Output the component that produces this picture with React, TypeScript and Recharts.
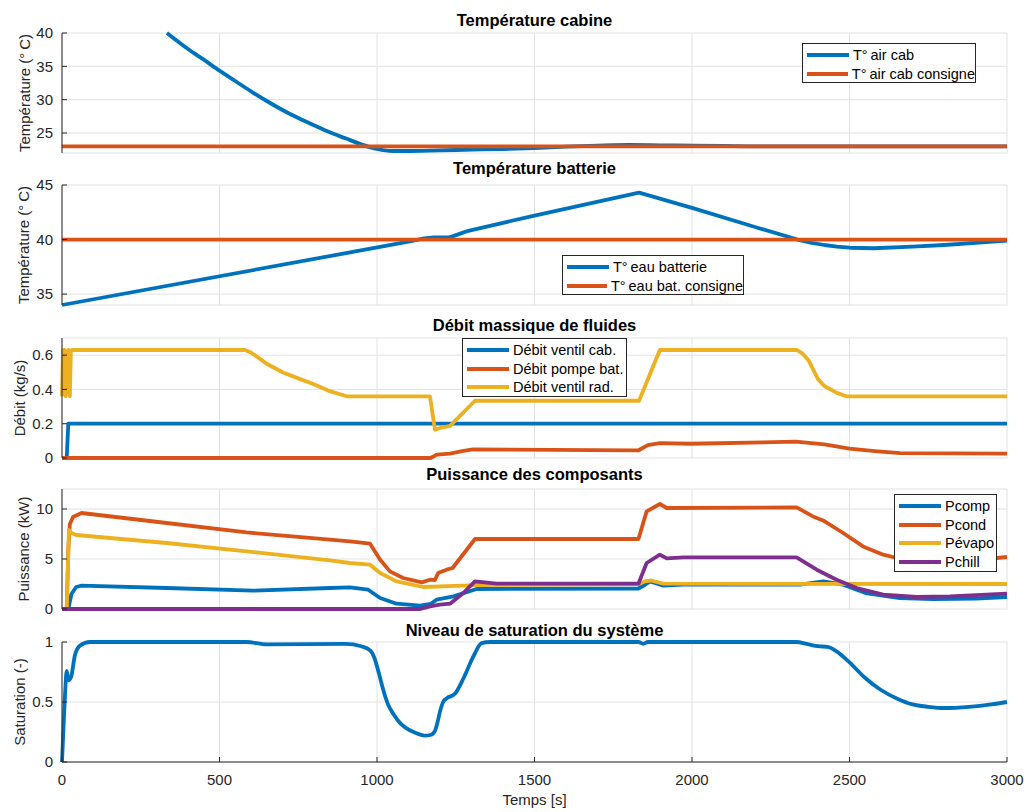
import { LineChart, Line, XAxis, YAxis, CartesianGrid } from "recharts";

const FONT = '"Liberation Sans", Arial, Helvetica, sans-serif';
const BLUE = "#0072BD";
const ORANGE = "#D95319";
const YELLOW = "#EDB120";
const PURPLE = "#7E2F8E";
const AXIS = "#262626";
const GRID = "#e2e2e2";

const X_TICKS = [0, 500, 1000, 1500, 2000, 2500, 3000];

// Température cabine
const cabTime = [333, 400, 450, 500, 550, 600, 650, 700, 750, 800, 850, 900, 950, 1000, 1050, 1100, 1200, 1300, 1400, 1500, 1600, 1700, 1800, 1900, 2000, 2100, 2200, 2400, 2600, 3000];
const cabTemp = [40, 37.6, 36.0, 34.35, 32.8, 31.25, 29.8, 28.45, 27.25, 26.15, 25.1, 24.2, 23.3, 22.6, 22.3, 22.3, 22.4, 22.5, 22.6, 22.75, 22.95, 23.1, 23.2, 23.15, 23.1, 23.05, 23.0, 23.0, 23.0, 23.0];
const cabSetTime = [0, 3000];
const cabSet = [23, 23];

// Température batterie
const battTime = [0, 1100, 1150, 1180, 1230, 1260, 1290, 1500, 1832, 2000, 2200, 2335, 2380, 2420, 2460, 2500, 2578, 2700, 2800, 2900, 3000];
const battTemp = [34, 39.8, 40.1, 40.2, 40.2, 40.5, 40.8, 42.2, 44.3, 42.9, 41.15, 40.0, 39.7, 39.5, 39.35, 39.25, 39.2, 39.35, 39.5, 39.7, 39.9];
const battSetTime = [0, 3000];
const battSet = [40, 40];

// Débit massique
const ventCabTime = [0, 15, 20, 3000];
const ventCab = [0, 0, 0.2, 0.2];
const pumpTime = [0, 1170, 1190, 1232, 1270, 1305, 1829, 1860, 1898, 1994, 2330, 2420, 2500, 2580, 2660, 3000];
const pump = [0, 0, 0.02, 0.025, 0.04, 0.05, 0.044, 0.075, 0.087, 0.083, 0.095, 0.08, 0.055, 0.04, 0.028, 0.025];
const ventRadTime = [0, 3, 6, 9, 12, 15, 18, 21, 25, 28, 32, 581, 600, 620, 650, 700, 756, 800, 850, 904, 1168, 1184, 1200, 1232, 1311, 1832, 1898, 2333, 2350, 2370, 2400, 2420, 2460, 2490, 3000];
const ventRad = [0.36, 0.63, 0.37, 0.63, 0.36, 0.62, 0.38, 0.63, 0.36, 0.62, 0.63, 0.63, 0.615, 0.59, 0.55, 0.5, 0.46, 0.43, 0.39, 0.36, 0.36, 0.165, 0.175, 0.187, 0.334, 0.334, 0.63, 0.63, 0.61, 0.57, 0.46, 0.42, 0.38, 0.36, 0.36];

// Puissance des composants
const pcompTime = [0, 20, 30, 45, 62, 332, 607, 851, 914, 972, 1010, 1062, 1137, 1170, 1189, 1243, 1316, 1830, 1850, 1867, 1909, 1972, 2343, 2417, 2480, 2551, 2660, 2766, 2900, 3000];
const pcomp = [0, 0, 1.5, 2.2, 2.33, 2.1, 1.83, 2.1, 2.16, 1.93, 1.1, 0.53, 0.33, 0.5, 0.93, 1.26, 2.0, 2.05, 2.4, 2.76, 2.33, 2.43, 2.43, 2.76, 2.43, 1.6, 1.1, 1.0, 1.05, 1.2];
const pcondTime = [0, 15, 20, 25, 35, 62, 332, 586, 851, 914, 978, 1010, 1041, 1083, 1142, 1168, 1184, 1194, 1221, 1240, 1311, 1830, 1856, 1898, 1920, 2332, 2384, 2416, 2480, 2543, 2607, 2650, 2750, 2850, 2950, 3000];
const pcond = [0, 0, 6, 8.5, 9.2, 9.6, 8.6, 7.66, 6.93, 6.76, 6.53, 4.93, 3.76, 3.1, 2.66, 2.93, 2.9, 3.6, 3.93, 4.1, 7.0, 7.0, 9.76, 10.5, 10.1, 10.16, 9.26, 8.86, 7.6, 6.26, 5.43, 5.1, 4.9, 4.9, 5.05, 5.2];
const pevapTime = [0, 15, 22, 30, 45, 332, 586, 851, 914, 978, 1010, 1062, 1147, 1274, 1321, 1830, 1850, 1870, 1909, 3000];
const pevap = [0, 0, 7.9, 7.6, 7.4, 6.6, 5.76, 4.86, 4.6, 4.43, 3.6, 2.76, 2.2, 2.33, 2.4, 2.5, 2.76, 2.85, 2.53, 2.5];
const pchillTime = [0, 1137, 1168, 1200, 1232, 1274, 1311, 1380, 1830, 1856, 1898, 1920, 1973, 2332, 2396, 2459, 2523, 2607, 2713, 2819, 3000];
const pchill = [0, 0, 0.27, 0.43, 0.53, 1.6, 2.76, 2.53, 2.53, 4.6, 5.43, 5.06, 5.16, 5.16, 3.93, 2.93, 2.1, 1.43, 1.2, 1.26, 1.53];

// Niveau de saturation
const satTime = [0, 5, 10, 15, 20, 29, 41, 57, 89, 586, 650, 900, 950, 978, 990, 1005, 1020, 1035, 1052, 1075, 1094, 1120, 1152, 1170, 1184, 1192, 1200, 1210, 1221, 1248, 1275, 1306, 1332, 1360, 1830, 1845, 1860, 2330, 2370, 2400, 2430, 2460, 2500, 2550, 2600, 2650, 2700, 2750, 2800, 2880, 2950, 3000];
const sat = [0, 0.3, 0.58, 0.76, 0.68, 0.71, 0.89, 0.97, 1.0, 1.0, 0.98, 0.985, 0.965, 0.93, 0.88, 0.75, 0.6, 0.48, 0.4, 0.32, 0.28, 0.245, 0.22, 0.225, 0.26, 0.33, 0.42, 0.5, 0.53, 0.57, 0.7, 0.88, 0.99, 1.0, 1.0, 0.985, 1.0, 1.0, 0.98, 0.965, 0.96, 0.92, 0.83, 0.7, 0.6, 0.53, 0.48, 0.46, 0.45, 0.46, 0.48, 0.5];

const zip = (ts: number[], vs: number[]) => ts.map((t, i) => ({ t, v: vs[i] }));

type Curve = "linear" | "monotone";
type Series = { name: string; color: string; curve: Curve; data: { t: number; v: number }[] };

const PLOT_RIGHT = 1007;
const Y_AXIS_W = 62;
const PLOT_H = 120;
const PAD = 14;

function Panel({
  top,
  domain,
  ticks,
  series,
  last,
}: {
  top: number;
  domain: [number, number];
  ticks: number[];
  series: Series[];
  last?: boolean;
}) {
  const xh = last ? 40 : 0;
  return (
    <div style={{ position: "absolute", left: 0, top: top - PAD }}>
      <LineChart
        width={1029}
        height={PLOT_H + 2 * PAD + xh}
        margin={{ top: PAD, right: 1029 - PLOT_RIGHT, bottom: PAD, left: 0 }}
      >
        <CartesianGrid stroke={GRID} strokeWidth={1} />
        <XAxis
          dataKey="t"
          type="number"
          domain={[0, 3000]}
          ticks={X_TICKS}
          height={xh}
          tickSize={-5}
          tickMargin={17}
          axisLine={{ stroke: AXIS }}
          tickLine={{ stroke: AXIS }}
          tick={{ fontSize: 15, fill: AXIS, fontFamily: FONT }}
          tickFormatter={(v) => (last ? String(v) : "")}
          interval={0}
        />
        <YAxis
          type="number"
          domain={domain}
          ticks={ticks}
          width={Y_AXIS_W}
          tickSize={-5}
          tickMargin={14}
          axisLine={{ stroke: AXIS }}
          tickLine={{ stroke: AXIS }}
          tick={{ fontSize: 15, fill: AXIS, fontFamily: FONT }}
          interval={0}
        />
        {series.map((s) => (
          <Line
            key={s.name}
            data={s.data}
            dataKey="v"
            name={s.name}
            type={s.curve}
            stroke={s.color}
            strokeWidth={3.8}
            strokeLinejoin="round"
            dot={false}
            isAnimationActive={false}
          />
        ))}
      </LineChart>
    </div>
  );
}

function Title({ cy, text }: { cy: number; text: string }) {
  return (
    <div
      style={{
        position: "absolute",
        left: 62,
        width: PLOT_RIGHT - 62,
        top: cy - 10,
        lineHeight: "20px",
        textAlign: "center",
        fontWeight: "bold",
        fontSize: 16.5,
        color: "#000",
      }}
    >
      {text}
    </div>
  );
}

function YLabel({ cx, cy, text }: { cx: number; cy: number; text: string }) {
  return (
    <div
      style={{
        position: "absolute",
        left: cx,
        top: cy,
        transform: "translate(-50%, -50%) rotate(-90deg)",
        whiteSpace: "nowrap",
        fontSize: 15,
        lineHeight: "18px",
        color: AXIS,
      }}
    >
      {text}
    </div>
  );
}

function LegendBox({ left, top, width, series }: { left: number; top: number; width: number; series: Series[] }) {
  return (
    <div
      style={{
        position: "absolute",
        left,
        top,
        width,
        height: series.length * 18.7 + 3,
        boxSizing: "border-box",
        border: `1px solid ${AXIS}`,
        background: "#fff",
        paddingTop: 1.6,
      }}
    >
      {series.map((s) => (
        <div key={s.name} style={{ display: "flex", alignItems: "center", height: 18.7 }}>
          <div style={{ width: 42, height: 3.8, background: s.color, marginLeft: 4, marginRight: 4 }} />
          <span style={{ fontSize: 14.5, color: "#000", whiteSpace: "nowrap" }}>{s.name}</span>
        </div>
      ))}
    </div>
  );
}

const cabSeries: Series[] = [
  { name: "T°\u2009air cab", color: BLUE, curve: "monotone", data: zip(cabTime, cabTemp) },
  { name: "T°\u2009air cab consigne", color: ORANGE, curve: "linear", data: zip(cabSetTime, cabSet) },
];
const battSeries: Series[] = [
  { name: "T°\u2009eau batterie", color: BLUE, curve: "linear", data: zip(battTime, battTemp) },
  { name: "T°\u2009eau bat. consigne", color: ORANGE, curve: "linear", data: zip(battSetTime, battSet) },
];
const flowSeries: Series[] = [
  { name: "Débit ventil cab.", color: BLUE, curve: "linear", data: zip(ventCabTime, ventCab) },
  { name: "Débit pompe bat.", color: ORANGE, curve: "linear", data: zip(pumpTime, pump) },
  { name: "Débit ventil rad.", color: YELLOW, curve: "linear", data: zip(ventRadTime, ventRad) },
];
const powerSeries: Series[] = [
  { name: "Pcomp", color: BLUE, curve: "linear", data: zip(pcompTime, pcomp) },
  { name: "Pcond", color: ORANGE, curve: "linear", data: zip(pcondTime, pcond) },
  { name: "Pévapo", color: YELLOW, curve: "linear", data: zip(pevapTime, pevap) },
  { name: "Pchill", color: PURPLE, curve: "linear", data: zip(pchillTime, pchill) },
];
const satSeries: Series[] = [{ name: "Saturation", color: BLUE, curve: "monotone", data: zip(satTime, sat) }];

export default function App() {
  return (
    <div
      style={{
        position: "fixed",
        left: 0,
        top: 0,
        width: 1029,
        height: 812,
        background: "#fff",
        fontFamily: FONT,
        overflow: "hidden",
      }}
    >
      <Panel top={33} domain={[22, 40]} ticks={[25, 30, 35, 40]} series={cabSeries} />
      <Panel top={185} domain={[34, 45]} ticks={[35, 40, 45]} series={battSeries} />
      <Panel top={338} domain={[0, 0.7]} ticks={[0, 0.2, 0.4, 0.6]} series={flowSeries} />
      <Panel top={489} domain={[0, 12]} ticks={[0, 5, 10]} series={powerSeries} />
      <Panel top={642} domain={[0, 1]} ticks={[0, 0.5, 1]} series={satSeries} last />

      <Title cy={20} text="Température cabine" />
      <Title cy={168} text="Température batterie" />
      <Title cy={325} text="Débit massique de fluides" />
      <Title cy={474} text="Puissance des composants" />
      <Title cy={630} text="Niveau de saturation du système" />

      <YLabel cx={25} cy={93} text={"Température (°\u2009C)"} />
      <YLabel cx={24} cy={245} text={"Température (°\u2009C)"} />
      <YLabel cx={20} cy={398} text="Débit (kg/s)" />
      <YLabel cx={24} cy={549} text="Puissance (kW)" />
      <YLabel cx={20} cy={702} text="Saturation (-)" />

      <div
        style={{
          position: "absolute",
          left: 62,
          width: PLOT_RIGHT - 62,
          top: 791,
          lineHeight: "18px",
          textAlign: "center",
          fontSize: 15,
          color: AXIS,
        }}
      >
        Temps [s]
      </div>

      <LegendBox left={802} top={43} width={174} series={cabSeries} />
      <LegendBox left={562} top={255} width={182} series={battSeries} />
      <LegendBox left={462} top={338} width={165} series={flowSeries} />
      <LegendBox left={894} top={494} width={103} series={powerSeries} />
    </div>
  );
}
